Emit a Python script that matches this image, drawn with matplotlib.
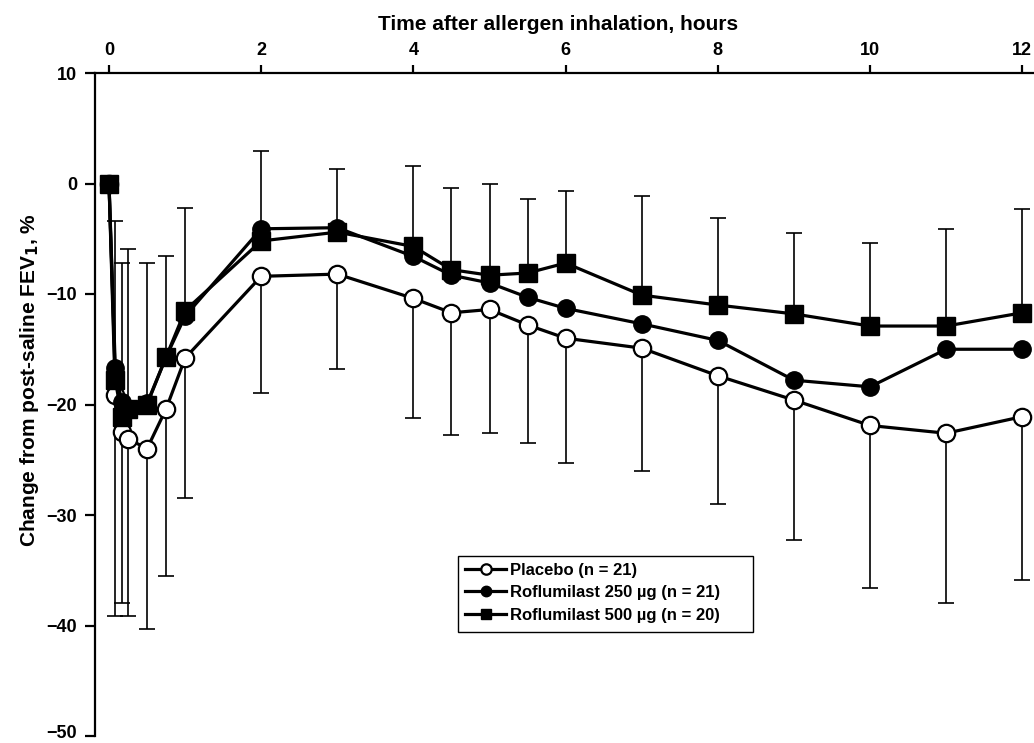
import numpy as np
import matplotlib
matplotlib.use("Agg")
import matplotlib.pyplot as plt
import matplotlib.transforms as mtransforms
from matplotlib.patches import Rectangle

plt.rcParams['font.family'] = ['Liberation Sans', 'DejaVu Sans']
plt.rcParams['font.weight'] = 'bold'

# time after allergen inhalation, hours
time = [0, 0.083, 0.167, 0.25, 0.5, 0.75, 1, 2, 3, 4, 4.5, 5, 5.5, 6, 7, 8, 9, 10, 11, 12]

# change from post-saline FEV1, %
placebo = [0, -19.1, -22.5, -23.1, -24.0, -20.4, -15.8, -8.4, -8.2, -10.4, -11.7,
           -11.4, -12.8, -14.0, -14.9, -17.4, -19.6, -21.9, -22.6, -21.1]
rof250 = [0, -16.7, -19.8, -20.4, -19.9, -15.7, -12.0, -4.1, -4.0, -6.6, -8.3,
          -9.0, -10.3, -11.3, -12.7, -14.2, -17.8, -18.4, -15.0, -15.0]
rof500 = [0, -17.8, -21.1, -20.4, -20.0, -15.7, -11.5, -5.2, -4.4, -5.7, -7.8,
          -8.3, -8.1, -7.2, -10.1, -11.0, -11.8, -12.9, -12.9, -11.7]

# error bars: up from roflumilast 500, down from placebo
sd_rof500 = [0, 14.4, 13.9, 14.5, 12.8, 9.1, 9.3, 8.1, 5.7, 7.3, 7.35,
             8.3, 6.7, 6.5, 9.0, 7.9, 7.3, 7.5, 8.8, 9.4]
sd_placebo = [0, 20.0, 15.5, 16.0, 16.3, 15.1, 12.7, 10.6, 8.6, 10.8, 11.1,
              11.2, 10.7, 11.3, 11.1, 11.6, 12.7, 14.7, 15.4, 14.8]

labels = ['Placebo (n = 21)', 'Roflumilast 250 µg (n = 21)', 'Roflumilast 500 µg (n = 20)']

fig = plt.figure(figsize=(10.34, 7.43), dpi=100)
ax = fig.add_axes([95/1034, 7/743, 939/1034, 663/743])

t = np.array(time)
n = len(t) - 1
# error bars first so markers sit on top
ax.errorbar(t[1:], rof500[1:], yerr=[np.zeros(n), sd_rof500[1:]], fmt='none',
            ecolor='black', elinewidth=1.2, capsize=6, capthick=1.2, zorder=1)
ax.errorbar(t[1:], placebo[1:], yerr=[sd_placebo[1:], np.zeros(n)], fmt='none',
            ecolor='black', elinewidth=1.2, capsize=6, capthick=1.2, zorder=1)

ax.plot(t, placebo, '-o', color='black', lw=2.3, ms=12.5, mfc='white', mec='black',
        mew=1.6, label=labels[0], zorder=3)
ax.plot(t, rof250, '-o', color='black', lw=2.3, ms=12.5, label=labels[1], zorder=4)
ax.plot(t, rof500, '-s', color='black', lw=2.3, ms=12.5, label=labels[2], zorder=5)

ax.set_xlim(-0.184, 12.155)
ax.set_ylim(-50, 10)
ax.set_xticks([0, 2, 4, 6, 8, 10, 12])
ax.set_yticks([-50, -40, -30, -20, -10, 0, 10])

ax.xaxis.tick_top()
ax.spines['bottom'].set_visible(False)
ax.spines['right'].set_visible(False)
ax.spines['left'].set_linewidth(1.6)
ax.spines['top'].set_linewidth(1.6)
ax.tick_params(axis='x', direction='out', length=6, width=1.6, labelsize=13, pad=4)
ax.tick_params(axis='y', direction='out', length=7, width=1.6, labelsize=13, pad=6)
for lab in ax.get_xticklabels() + ax.get_yticklabels():
    lab.set_fontweight('bold')

# bottom label sits right at the edge, lift it a little
fig.canvas.draw()
lowest = ax.get_yticklabels()[0]
lowest.set_transform(lowest.get_transform() +
                     mtransforms.ScaledTranslation(0, 4/100, fig.dpi_scale_trans))

fig.text(558/1034, 1 - 24/743, 'Time after allergen inhalation, hours',
         ha='center', va='center', fontsize=15, fontweight='bold')
fig.text(30/1034, 1 - 380/743, 'Change from post-saline FEV$_\\mathbf{1}$, %',
         ha='center', va='center', rotation=90, fontsize=15, fontweight='bold')

# legend box is wider than its text in the original, so draw the frame separately
ax.add_patch(Rectangle((0.3866, 0.1569), 0.3142, 0.1146, transform=ax.transAxes,
                       facecolor='white', edgecolor='black', lw=1.0, zorder=6))
leg = ax.legend(loc='upper left', bbox_to_anchor=(0.3866, 0.2715), borderaxespad=0,
                frameon=False, markerscale=0.6, handlelength=2.5, handletextpad=0.2,
                labelspacing=0.45, borderpad=0.4, prop={'weight': 'bold', 'size': 12})
leg.set_zorder(7)

fig.savefig('out.png', dpi=100)
